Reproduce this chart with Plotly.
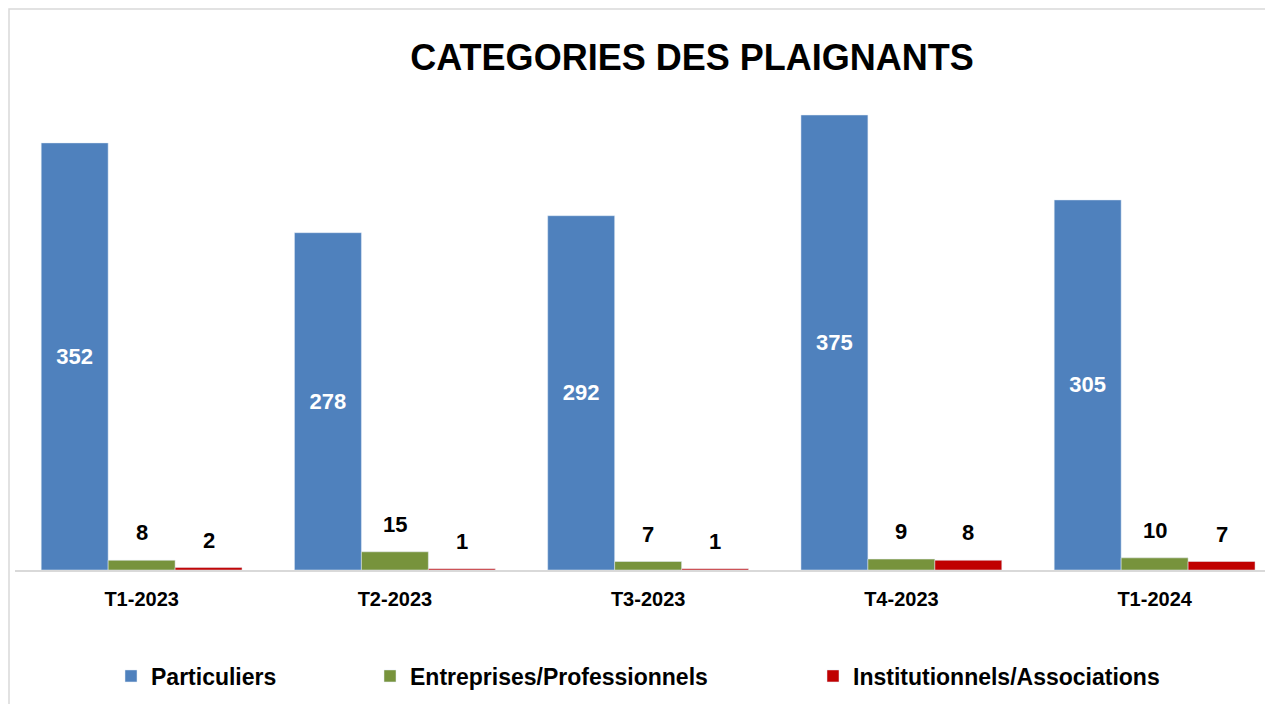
import plotly.graph_objects as go

categories = ["T1-2023", "T2-2023", "T3-2023", "T4-2023", "T1-2024"]
particuliers = [352, 278, 292, 375, 305]
entreprises = [8, 15, 7, 9, 10]
institutionnels = [2, 1, 1, 8, 7]

series_names = ["Particuliers", "Entreprises/Professionnels", "Institutionnels/Associations"]
colors = ["#4F81BD", "#77933C", "#C00000"]

FONT = "Liberation Sans, Arial, sans-serif"

fig = go.Figure()
fig.add_trace(go.Bar(
    x=categories, y=particuliers, name=series_names[0], marker_color=colors[0],
    text=particuliers, textposition="inside", insidetextanchor="middle",
    textangle=0, constraintext="none",
    textfont=dict(family=FONT, size=22, color="white", weight="bold"),
    legend="legend",
))
fig.add_trace(go.Bar(
    x=categories, y=entreprises, name=series_names[1], marker_color=colors[1],
    legend="legend2",
))
fig.add_trace(go.Bar(
    x=categories, y=institutionnels, name=series_names[2], marker_color=colors[2],
    legend="legend3",
))

bargap = 0.207
bw = (1 - bargap) / 3
annotations = []
for i, cat in enumerate(categories):
    for vals, off in ((entreprises, 0.0), (institutionnels, bw)):
        annotations.append(dict(
            x=i + off, y=vals[i], xref="x", yref="y", text=str(vals[i]),
            showarrow=False, yanchor="bottom", yshift=13,
            font=dict(family=FONT, size=22, color="black", weight="bold"),
        ))

W, H = 1273, 704
L, R, T, B = 7, 0, 77, 142
plot_w = W - L - R
plot_h = H - T - B
cat_px = 253.25
px_per_unit = (570 - 115) / 375.0
base_y = H - B  # baseline in figure pixels

fig.update_layout(
    width=W, height=H,
    margin=dict(l=L, r=R, t=T, b=B, autoexpand=False),
    paper_bgcolor="white", plot_bgcolor="white",
    barmode="group", bargap=bargap, bargroupgap=0,
    title=dict(
        text="<b>CATEGORIES DES PLAIGNANTS</b>",
        x=684 / W, xanchor="center", xref="container",
        y=1 - 49 / H, yanchor="middle", yref="container",
        font=dict(family=FONT, size=36, color="black"),
    ),
    xaxis=dict(
        type="category", range=[-0.5, -0.5 + plot_w / cat_px],
        showline=True, linecolor="#D9D9D9", linewidth=1.5,
        showgrid=False, zeroline=False, ticks="",
        ticklabelstandoff=10,
        tickfont=dict(family=FONT, size=20, color="black", weight="bold"),
    ),
    yaxis=dict(
        range=[0, plot_h / px_per_unit], visible=False, showgrid=False, zeroline=False,
    ),
    annotations=annotations,
    shapes=[dict(
        type="rect", xref="paper", yref="paper",
        x0=(1 - L) / plot_w, x1=1.05,
        y0=-0.4, y1=(base_y - 1) / plot_h,
        line=dict(color="#D9D9D9", width=1.5), fillcolor="rgba(0,0,0,0)", layer="below",
    )],
    showlegend=True,
)

legend_font = dict(family=FONT, size=23, color="black", weight="bold")
legend_y = 1 - 668 / H
for key, px in (("legend", 103), ("legend2", 362), ("legend3", 805)):
    fig.update_layout({key: dict(
        x=px / W, xref="container", xanchor="left",
        y=legend_y, yref="container", yanchor="middle",
        orientation="h", font=legend_font, bgcolor="rgba(0,0,0,0)",
        borderwidth=0,
    )})

fig.write_html("out.html")
